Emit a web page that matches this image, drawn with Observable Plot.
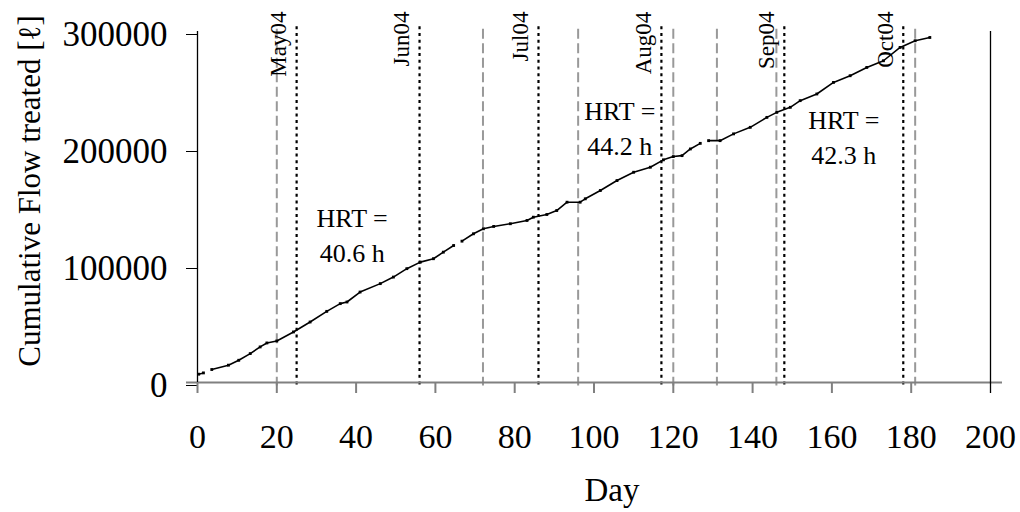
<!DOCTYPE html>
<html>
<head>
<meta charset="utf-8">
<script src="https://cdn.jsdelivr.net/npm/d3@7"></script>
<script src="https://cdn.jsdelivr.net/npm/@observablehq/plot@0.6"></script>
<style>
  body { margin: 0; background: #fff; }
  #chart svg { display: block; }
</style>
</head>
<body>
<div id="chart"></div>
<script>
// Cumulative treated flow by day of operation (null marks a logging gap)
const days = [0.3, 1.5, 2.5, 3.6, 7.8, 10.4, 13.3, 15.8, 17.5, 20, 24.2, 28.4, 32.6, 36, 37.7,
  41, 46.1, 49.4, 52.8, 56.2, 59.5, 62, 64.6, 65.6, 66.7, 69.6, 72.1, 74.7, 78.9, 83.1, 84.7,
  88.1, 90.6, 93.2, 96.5, 97.8, 101.6, 105.8, 110, 114.2, 117.5, 120, 122.2, 124.3, 126.8,
  127.8, 128.9, 131.8, 135.2, 139.4, 143.6, 146.1, 149.5, 152, 156.2, 160.4, 164.6, 168.8,
  173, 177.2, 181, 184.7];
const flow = [7100, 8200, null, 11100, 14800, 19000, 24700, 30400, 33800, 35500, 43200, 51700,
  60800, 67400, 68800, 77300, 84500, 90100, 97300, 102900, 105800, 111400, 117100, null,
  120800, 127100, 131400, 133400, 135700, 138500, 141300, 143600, 147000, 154100, 154100,
  157000, 164100, 172600, 179700, 184000, 190300, 193100, 193900, 199600, 204400, null,
  206700, 206700, 212500, 218100, 226600, 230900, 235200, 240900, 246600, 256500, 262200,
  269300, 275000, 286400, 292100, 294900];

// Month boundaries (dotted) and operating-period changes (dashed)
const monthLabels = ["May04", "Jun04", "Jul04", "Aug04", "Sep04", "Oct04"];
const monthDays = [25, 56, 86, 117, 148, 178];
const changeDays = [20, 72, 96, 120, 131, 146, 181];

// Hydraulic retention time annotations
const hrtText = ["HRT =\n40.6 h", "HRT =\n44.2 h", "HRT =\n42.3 h"];
const hrtDay = [39, 106.5, 163];
const hrtFlow = [154000, 246000, 238000];

const xTicks = [0, 20, 40, 60, 80, 100, 120, 140, 160, 180, 200];
const yTicks = [0, 100000, 200000, 300000];
const xTitle = "Day";
const yTitle = "Cumulative Flow treated [ℓ]";

const points = days.map((d, i) => ({day: d, flow: flow[i]}));
const months = monthLabels.map((m, i) => ({label: m, day: monthDays[i]}));
const hrt = hrtText.map((t, i) => ({text: t, day: hrtDay[i], flow: hrtFlow[i]}));

const serif = "'Liberation Serif', 'Times New Roman', Times, serif";

const chart = Plot.plot({
  width: 1020,
  height: 512,
  marginTop: 31,
  marginBottom: 130,
  marginLeft: 197,
  marginRight: 30,
  style: {fontFamily: serif, fontSize: "35px", background: "#fff", color: "#000"},
  x: {domain: [0, 200], axis: null},
  y: {domain: [0, 300000], axis: null},
  marks: [
    // period-change markers
    Plot.ruleX(changeDays, {x: d => d, y1: 302000, y2: -3000, stroke: "#999",
      strokeWidth: 2, strokeDasharray: "10,4.5"}),
    // month boundaries
    Plot.ruleX(months, {x: "day", y1: 304000, y2: -3000, stroke: "#000",
      strokeWidth: 2.2, strokeDasharray: "3,3.7"}),
    // axis lines and right-hand frame edge
    Plot.ruleY([0], {stroke: "#808080", strokeWidth: 2, insetLeft: -11, insetRight: -12}),
    Plot.ruleX([0], {y1: 300000, y2: 0, stroke: "#000", strokeWidth: 1.3}),
    Plot.ruleX([200], {y1: 300000, y2: 0, stroke: "#000", strokeWidth: 1.3, insetBottom: -11}),
    Plot.axisY(yTicks, {anchor: "left", tickSize: 11, tickPadding: 19, stroke: "#000",
      fill: "#000", tickFormat: d3.format("d"), label: null, dy: 3}),
    Plot.axisX(xTicks.filter(d => d < 200), {anchor: "bottom", tickSize: 11, tickPadding: 30,
      stroke: "#808080", strokeWidth: 2, text: null, label: null}),
    Plot.axisX(xTicks, {anchor: "bottom", tickSize: 11, tickPadding: 30, stroke: "none",
      fill: "#000", label: null, fontSize: 34}),
    // axis titles
    Plot.text([xTitle], {text: d => d, frameAnchor: "bottom", textAnchor: "middle",
      dx: 18, dy: 108, lineAnchor: "middle", fontSize: 33}),
    Plot.text([yTitle], {text: d => d, frameAnchor: "left", textAnchor: "middle", rotate: -90,
      dx: -167, dy: -16, lineAnchor: "middle", fontSize: 31}),
    // month labels
    Plot.text(months, {x: "day", y: 317000, text: "label", rotate: -90, textAnchor: "end",
      lineAnchor: "middle", dx: -18, fontSize: 23}),
    // HRT labels
    Plot.text(hrt, {x: "day", y: "flow", text: "text", lineAnchor: "top", lineHeight: 1.35,
      fontSize: 26}),
    // cumulative flow curve
    Plot.line(points, {x: "day", y: "flow", stroke: "#000", strokeWidth: 1.6}),
    Plot.dot(points, {x: "day", y: "flow", symbol: "square", r: 1.6, fill: "#000", stroke: "none"})
  ]
});

document.getElementById("chart").appendChild(chart);
</script>
</body>
</html>
